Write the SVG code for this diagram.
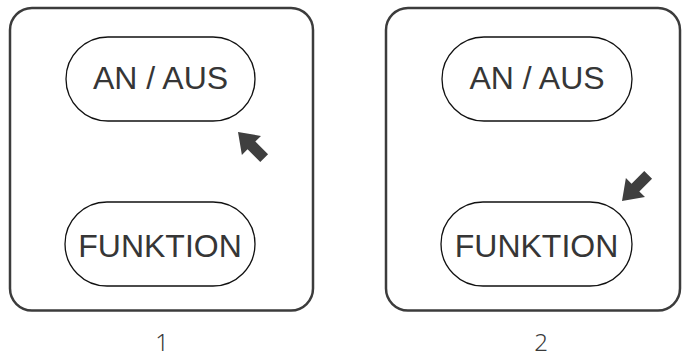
<svg xmlns="http://www.w3.org/2000/svg" width="682" height="357" viewBox="0 0 682 357">
  <defs>
    <style>
      .panel { fill: #ffffff; stroke: #3c3c3c; stroke-width: 2.5; }
      .pill { fill: #ffffff; stroke: #111111; stroke-width: 1.3; }
      .btn-label { font-family: "Liberation Sans", Arial, sans-serif; font-size: 32px; fill: #363636; text-anchor: middle; }
      .step { font-family: "Noto Sans", "DejaVu Sans", sans-serif; font-size: 24px; font-weight: 300; fill: #3a3a3a; text-anchor: middle; }
      .pointer { fill: #3f3f3f; }
    </style>
    <!-- block arrow pointing along +x, tip at origin -->
    <path id="block-arrow" d="M0,0 L-19,-13.5 L-19,-5.5 L-37,-5.5 L-37,5.5 L-19,5.5 L-19,13.5 Z"/>
  </defs>

  <rect width="682" height="357" fill="#ffffff"/>

  <!-- Panel 1 -->
  <g id="panel-1">
    <rect class="panel" x="10" y="8" width="303" height="302.5" rx="22" ry="22"/>
    <g id="p1-an-aus">
      <rect class="pill" x="66" y="37" width="189" height="84" rx="42" ry="42"/>
      <text class="btn-label" x="160.5" y="89">AN / AUS</text>
    </g>
    <g id="p1-funktion">
      <rect class="pill" x="65" y="202" width="190" height="84" rx="42" ry="42"/>
      <text class="btn-label" x="160" y="257">FUNKTION</text>
    </g>
    <text id="label-1" class="step" x="162" y="351">1</text>
  </g>

  <!-- Panel 2 -->
  <g id="panel-2">
    <rect class="panel" x="386" y="8" width="294" height="302.5" rx="22" ry="22"/>
    <g id="p2-an-aus">
      <rect class="pill" x="442" y="37" width="190" height="84" rx="42" ry="42"/>
      <text class="btn-label" x="537" y="89">AN / AUS</text>
    </g>
    <g id="p2-funktion">
      <rect class="pill" x="441" y="202" width="191" height="84" rx="42" ry="42"/>
      <text class="btn-label" x="536.5" y="257">FUNKTION</text>
    </g>
    <text id="label-2" class="step" x="541" y="351">2</text>
  </g>

  <!-- Pointers -->
  <g id="connectors">
    <use href="#block-arrow" class="pointer" transform="translate(238,132) rotate(225)"/>
    <use href="#block-arrow" class="pointer" transform="translate(622,201) rotate(135)"/>
  </g>
</svg>
